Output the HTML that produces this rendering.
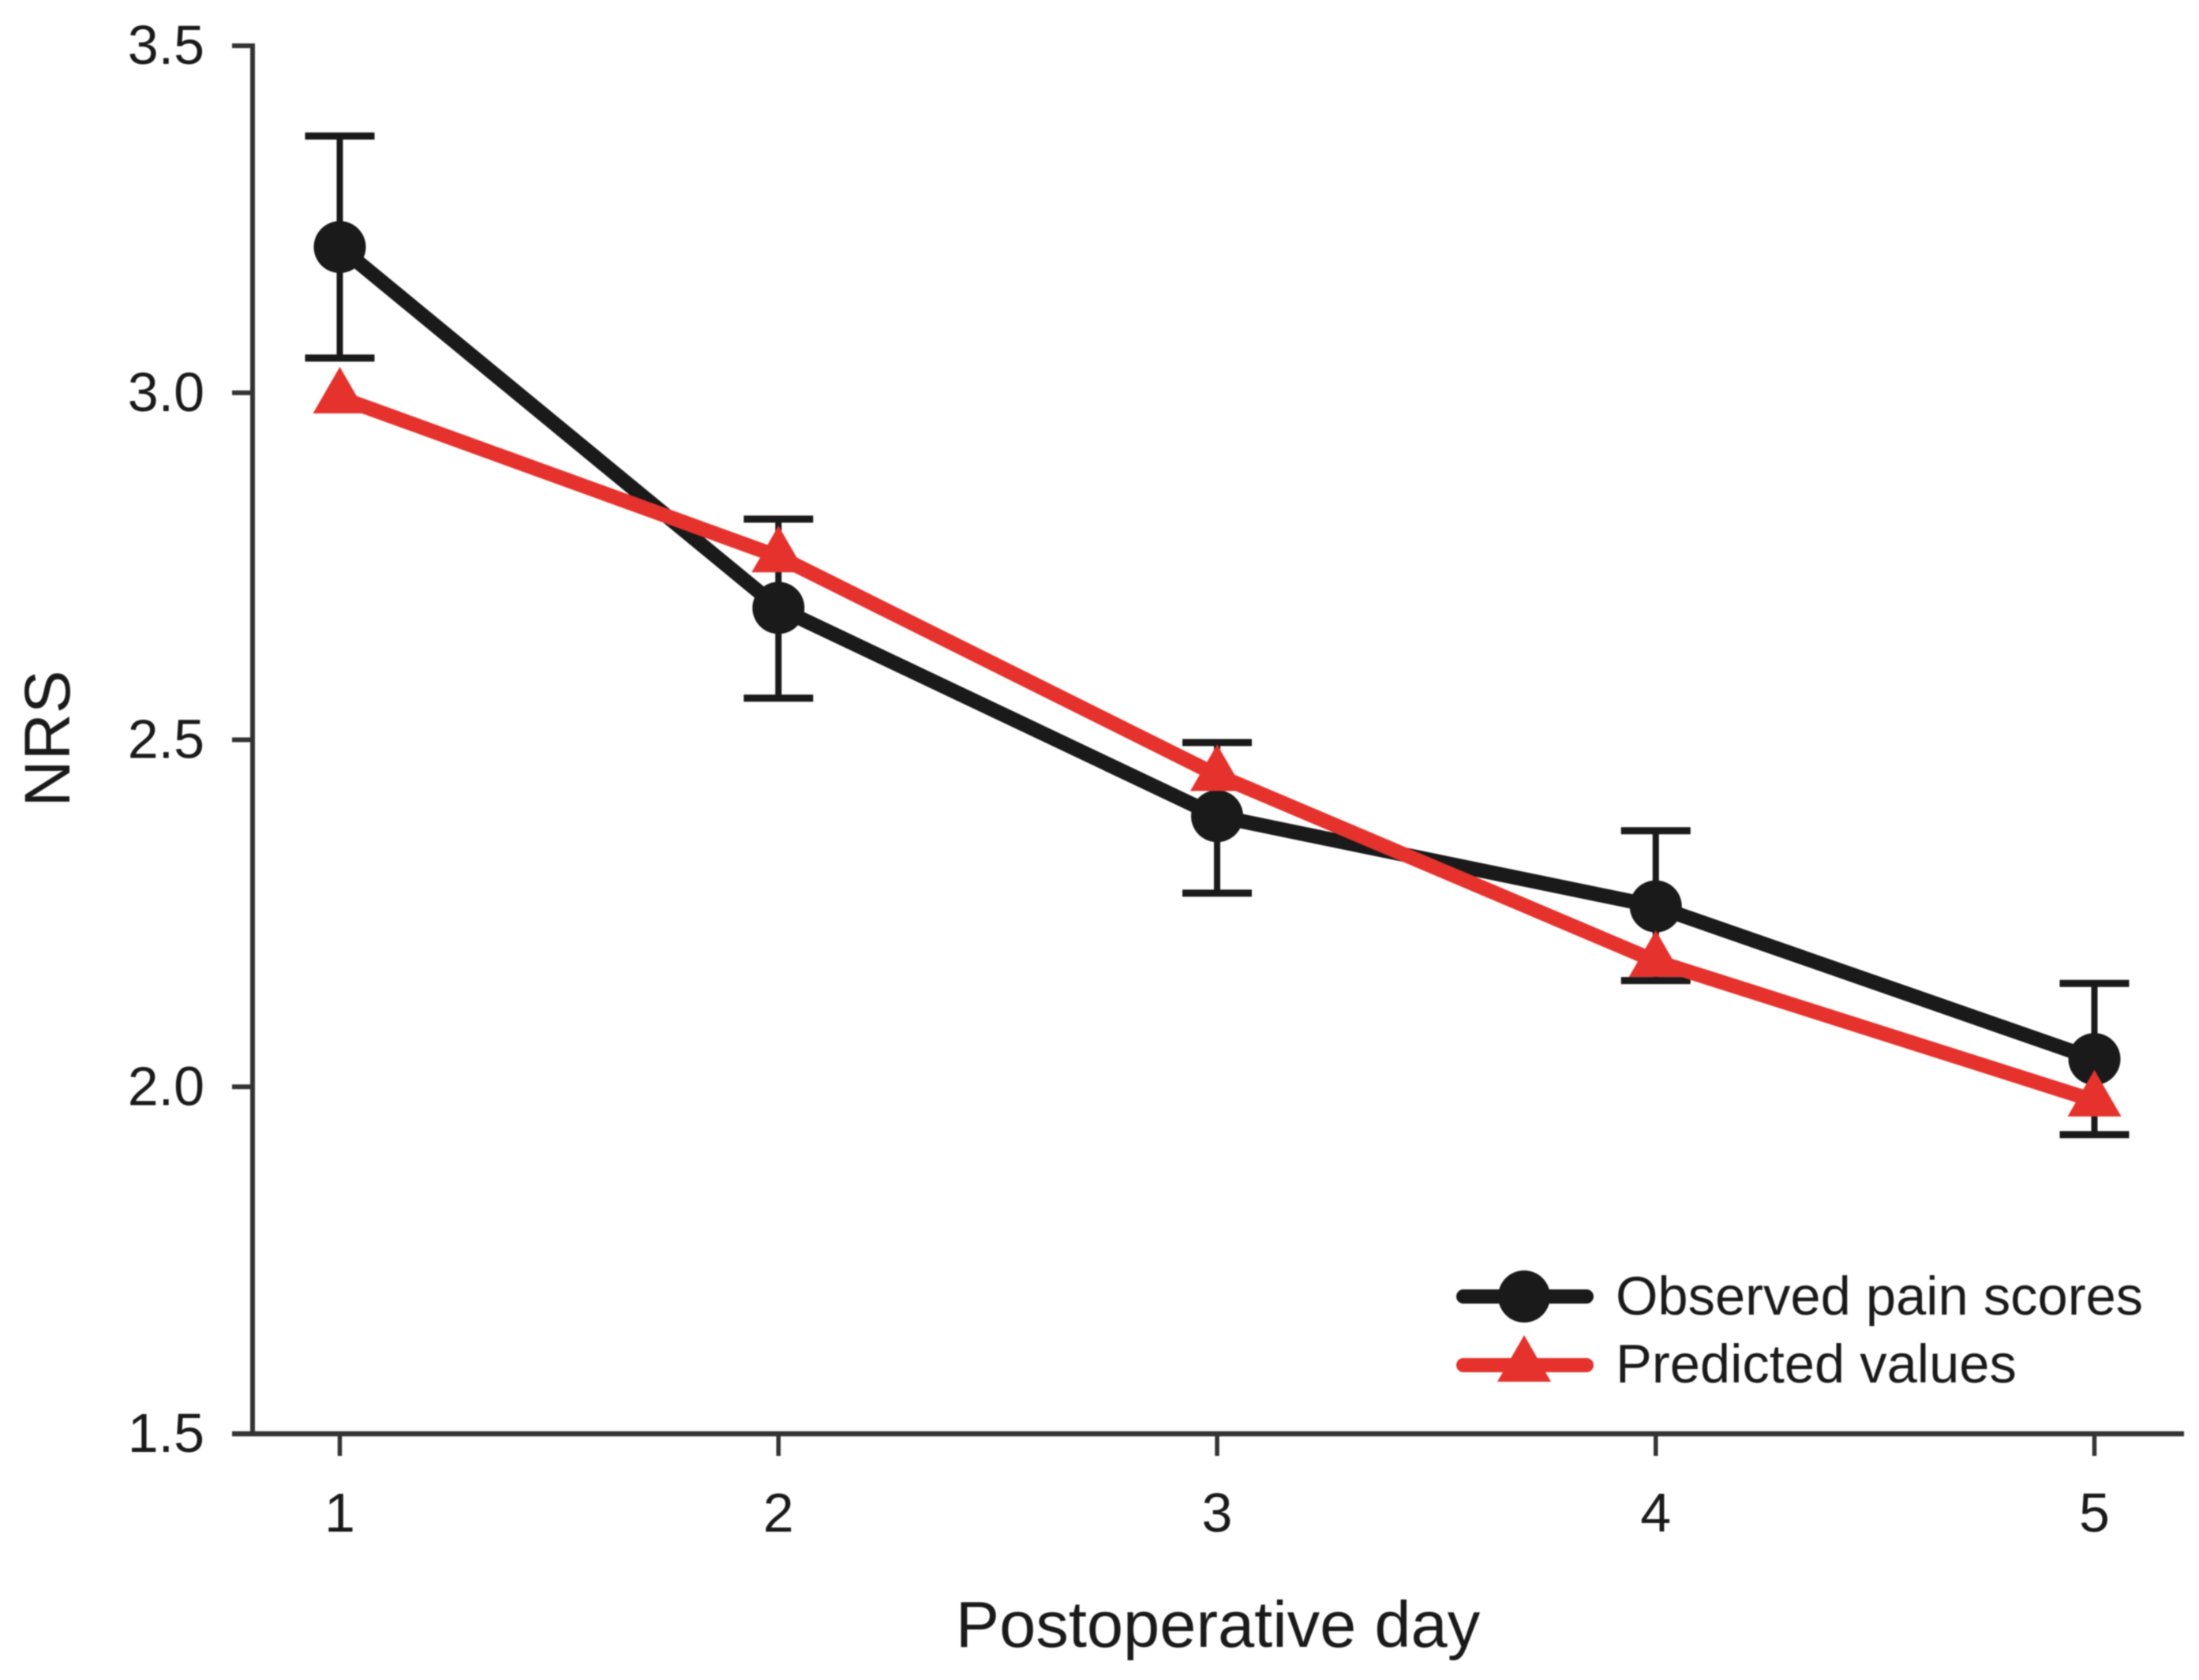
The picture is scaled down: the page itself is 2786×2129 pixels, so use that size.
<!DOCTYPE html>
<html lang="en">
<head>
<meta charset="utf-8">
<title>NRS by postoperative day</title>
<style>
  html, body { margin: 0; padding: 0; background: #fff; }
  body { width: 2786px; height: 2129px; overflow: hidden; }
  svg { display: block; filter: blur(0.7px); }
  text { font-family: "Liberation Sans", Arial, sans-serif; fill: #1a1a1a; }
</style>
</head>
<body>
<svg id="chart" xmlns="http://www.w3.org/2000/svg" width="2786" height="2129" viewBox="0 0 2786 2129">
  <rect x="0" y="0" width="2786" height="2129" fill="#ffffff"/>
  <g id="axes"></g>
  <g id="errors"></g>
  <g id="observed"></g>
  <g id="predicted"></g>
  <text x="0" y="0" font-size="82" text-anchor="middle" transform="translate(88 936) rotate(-90)">NRS</text>
  <text x="1543" y="2087" font-size="83" text-anchor="middle">Postoperative day</text>
  <g>
    <g>
      <line x1="1854" y1="1643" x2="2010" y2="1643" stroke="#1a1a1a" stroke-width="18" stroke-linecap="round"/>
      <circle cx="1931" cy="1643" r="33" fill="#1a1a1a"/>
      <text x="2047" y="1666" font-size="68.7">Observed pain scores</text>
    </g>
    <g>
      <line x1="1854" y1="1730" x2="2010" y2="1730" stroke="#e5322d" stroke-width="18" stroke-linecap="round"/>
      <polygon points="1931,1692 1965,1751 1897,1751" fill="#e5322d"/>
      <text x="2047" y="1752" font-size="68.7">Predicted values</text>
    </g>
  </g>
</svg>
<script>
const days = [1, 2, 3, 4, 5];
const observedValues = [3.21, 2.69, 2.39, 2.26, 2.04];
const predictedValues = [2.993, 2.764, 2.449, 2.181, 1.98];
const errorUpper = [3.37, 2.818, 2.496, 2.369, 2.149];
const errorLower = [3.05, 2.56, 2.279, 2.153, 1.931];
const yTickValues = [1.5, 2.0, 2.5, 3.0, 3.5];
const yTickLabels = ['1.5', '2.0', '2.5', '3.0', '3.5'];
const xTickLabels = ['1', '2', '3', '4', '5'];

const NS = 'http://www.w3.org/2000/svg';
const xScale = function (d) { return 430.5 + (d - 1) * 555.75; };
const yScale = function (v) { return 58 + (3.5 - v) * 879.5; };
const AXIS = '#333333';
const INK = '#1a1a1a';
const RED = '#e5322d';

function make(tag, parent) {
  const el = document.createElementNS(NS, tag);
  parent.appendChild(el);
  return el;
}
function setLine(el, x1, y1, x2, y2, color, width) {
  el.setAttribute('x1', x1);
  el.setAttribute('y1', y1);
  el.setAttribute('x2', x2);
  el.setAttribute('y2', y2);
  el.setAttribute('stroke', color);
  el.setAttribute('stroke-width', width);
}

const axes = document.getElementById('axes');
const errors = document.getElementById('errors');
const observed = document.getElementById('observed');
const predicted = document.getElementById('predicted');

const yAxisLine = make('line', axes);


setLine(yAxisLine, 320, yScale(3.5) - 3, 320, yScale(1.5), AXIS, 6);

const xAxisLine = make('line', axes);


setLine(xAxisLine, 294, yScale(1.5), 2767, yScale(1.5), AXIS, 6.5);

yTickValues.forEach(function (v, i) {
  const tick = make('line', axes);
  
  
  setLine(tick, 294, yScale(v), 320, yScale(v), AXIS, 6);

  const label = make('text', axes);
  
  
  label.setAttribute('x', 259);
  label.setAttribute('y', yScale(v) + 23);
  label.setAttribute('font-size', 70);
  label.setAttribute('text-anchor', 'end');
  label.textContent = yTickLabels[i];
});

days.forEach(function (d, i) {
  const tick = make('line', axes);
  
  
  setLine(tick, xScale(d), yScale(1.5), xScale(d), yScale(1.5) + 28, AXIS, 5.5);

  const label = make('text', axes);
  
  
  label.setAttribute('x', xScale(d));
  label.setAttribute('y', 1941);
  label.setAttribute('font-size', 70);
  label.setAttribute('text-anchor', 'middle');
  label.textContent = xTickLabels[i];
});

days.forEach(function (d, i) {
  const x = xScale(d);
  const stem = make('line', errors);
  
  
  setLine(stem, x, yScale(errorUpper[i]), x, yScale(errorLower[i]), INK, 8);

  const capTop = make('line', errors);
  
  
  setLine(capTop, x - 44, yScale(errorUpper[i]), x + 44, yScale(errorUpper[i]), INK, 9);

  const capBottom = make('line', errors);
  
  
  setLine(capBottom, x - 44, yScale(errorLower[i]), x + 44, yScale(errorLower[i]), INK, 9);
});

const observedLine = make('polyline', observed);


observedLine.setAttribute('points', days.map(function (d, i) { return xScale(d) + ',' + yScale(observedValues[i]); }).join(' '));
observedLine.setAttribute('fill', 'none');
observedLine.setAttribute('stroke', INK);
observedLine.setAttribute('stroke-width', 18.5);
observedLine.setAttribute('stroke-linejoin', 'round');

days.forEach(function (d, i) {
  const dot = make('circle', observed);
  
  
  dot.setAttribute('cx', xScale(d));
  dot.setAttribute('cy', yScale(observedValues[i]));
  dot.setAttribute('r', 33);
  dot.setAttribute('fill', INK);
});

const predictedLine = make('polyline', predicted);


predictedLine.setAttribute('points', days.map(function (d, i) { return xScale(d) + ',' + yScale(predictedValues[i]); }).join(' '));
predictedLine.setAttribute('fill', 'none');
predictedLine.setAttribute('stroke', RED);
predictedLine.setAttribute('stroke-width', 18.5);
predictedLine.setAttribute('stroke-linejoin', 'round');

days.forEach(function (d, i) {
  const x = xScale(d);
  const y = yScale(predictedValues[i]);
  const tri = make('polygon', predicted);
  
  
  tri.setAttribute('points', x + ',' + (y - 39) + ' ' + (x + 34) + ',' + (y + 20) + ' ' + (x - 34) + ',' + (y + 20));
  tri.setAttribute('fill', RED);
});
</script>
</body>
</html>
